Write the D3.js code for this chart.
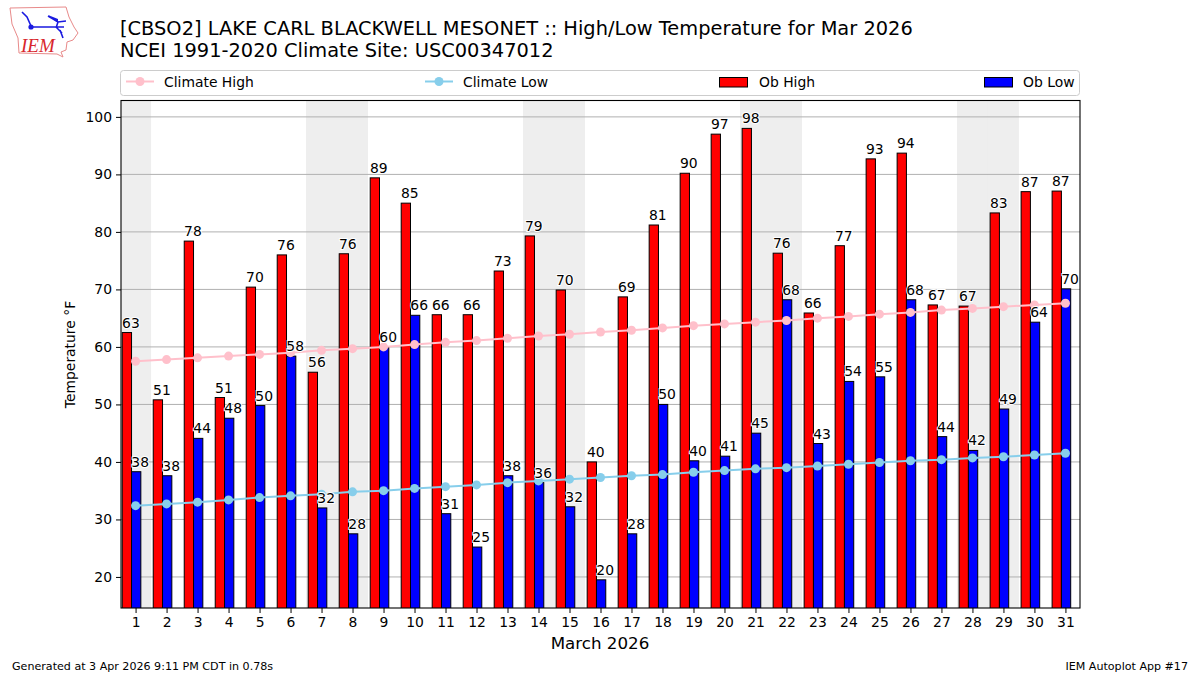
<!DOCTYPE html>
<html>
<head>
<meta charset="utf-8">
<script src="https://cdn.jsdelivr.net/npm/d3@7"></script>
<style>
  html, body { margin: 0; padding: 0; background: #fff; }
  svg text { font-family: "DejaVu Sans", sans-serif; fill: #000; }
</style>
</head>
<body>
<div id="vis"></div>
<script>
const days = d3.range(1, 32);
const weekendDays = [1, 7, 8, 14, 15, 21, 22, 28, 29];
const yTicks = [20, 30, 40, 50, 60, 70, 80, 90, 100];

const obHigh = [62.5, 50.8, 78.4, 51.2, 70.4, 76.0, 55.6, 76.2, 89.4, 85.0, 65.6, 65.6, 73.2, 79.3, 69.9, 40.0,
  68.7, 81.2, 90.2, 97.0, 98.0, 76.3, 65.9, 77.6, 92.7, 93.7, 67.3, 67.1, 83.3, 87.0, 87.1];
const obLow = [38.3, 37.6, 44.1, 47.6, 49.8, 58.4, 32.0, 27.5, 59.9, 65.5, 31.0, 25.2, 37.6, 36.4, 32.2, 19.5,
  27.5, 50.0, 40.2, 41.0, 45.0, 68.2, 43.2, 54.0, 54.8, 68.2, 44.4, 42.0, 49.2, 64.3, 70.1];
const highLabels = [63, 51, 78, 51, 70, 76, 56, 76, 89, 85, 66, 66, 73, 79, 70, 40,
  69, 81, 90, 97, 98, 76, 66, 77, 93, 94, 67, 67, 83, 87, 87];
const lowLabels = [38, 38, 44, 48, 50, 58, 32, 28, 60, 66, 31, 25, 38, 36, 32, 20,
  28, 50, 40, 41, 45, 68, 43, 54, 55, 68, 44, 42, 49, 64, 70];
const climateHigh = [57.5, 57.8, 58.1, 58.4, 58.7, 59.0, 59.4, 59.7, 60.0, 60.4, 60.8, 61.1, 61.5, 61.9, 62.2, 62.6,
  62.9, 63.3, 63.7, 64.0, 64.3, 64.6, 65.0, 65.3, 65.7, 66.0, 66.4, 66.7, 67.0, 67.3, 67.6];
const climateLow = [32.4, 32.7, 33.0, 33.4, 33.8, 34.1, 34.4, 34.8, 35.0, 35.4, 35.7, 36.0, 36.4, 36.7, 37.0, 37.3,
  37.6, 37.8, 38.2, 38.5, 38.8, 39.0, 39.3, 39.6, 39.9, 40.2, 40.4, 40.7, 40.9, 41.2, 41.5];

const margin = {top: 100.5, right: 120, bottom: 67, left: 121},
    width = 1200 - margin.left - margin.right,
    height = 675 - margin.top - margin.bottom;

const x = d3.scaleLinear().domain([0.53, 31.47]).range([0, width]);
const y = d3.scaleLinear().domain([14.6, 102.85]).range([height, 0]);

const root = d3.select("#vis").append("svg")
    .attr("width", 1200)
    .attr("height", 675)
    .style("display", "block");

// titles
root.append("text").attr("x", 120).attr("y", 35).attr("font-size", 19.4)
    .text("[CBSO2] LAKE CARL BLACKWELL MESONET :: High/Low Temperature for Mar 2026");
root.append("text").attr("x", 120).attr("y", 57).attr("font-size", 19.4)
    .text("NCEI 1991-2020 Climate Site: USC00347012");

// logo, rough drawing of the IEM mark
const logo = root.append("g");
logo.append("path")
    .attr("d", "M10,8 L66,7 L69,17 L74,27 L78,33 L73,40 L67,42 L66,50 L61,52 L63,57 L57,54 L19,53 L18,38 L12,24 Z")
    .attr("fill", "none").attr("stroke", "#e88a8a").attr("stroke-width", 1);
logo.append("path").attr("d", "M22,12 L27,17 L31,26 M31,27 L64,27 M48,16 L58,22 L66,21 M58,22 L56,28 M56,27 L62,33 M60,30 L63,38")
    .attr("fill", "none").attr("stroke", "#1a1ae0").attr("stroke-width", 1.6);
logo.append("circle").attr("cx", 31).attr("cy", 27).attr("r", 2.6).attr("fill", "#1a1ae0");
logo.append("path").attr("d", "M48,15 L58,19 L58,23 Z").attr("fill", "#1a1ae0");
logo.append("text").attr("x", 21).attr("y", 52).attr("font-size", 19)
    .style("font-family", "'Liberation Serif', serif").style("font-style", "italic").style("fill", "#d8262c")
    .text("IEM");

// legend
const legend = root.append("g");
legend.append("rect").attr("x", 120.5).attr("y", 70.5).attr("width", 959).attr("height", 25).attr("rx", 3)
    .attr("fill", "#fff").attr("stroke", "#cccccc");
[{label: "Climate High", color: "pink", lx: 126, tx: 164}, {label: "Climate Low", color: "skyblue", lx: 425, tx: 463}].forEach(function(d) {
  legend.append("line").attr("x1", d.lx).attr("x2", d.lx + 28).attr("y1", 81.5).attr("y2", 81.5)
      .attr("stroke", d.color).attr("stroke-width", 2);
  legend.append("circle").attr("cx", d.lx + 14).attr("cy", 81.5).attr("r", 4.5).attr("fill", d.color);
  legend.append("text").attr("x", d.tx).attr("y", 86.5).attr("font-size", 13.9).text(d.label);
});
[{label: "Ob High", color: "red", lx: 719, tx: 759}, {label: "Ob Low", color: "blue", lx: 984, tx: 1023}].forEach(function(d) {
  legend.append("rect").attr("x", d.lx + 0.5).attr("y", 77.5).attr("width", 28).attr("height", 9.5)
      .attr("fill", d.color).attr("stroke", "#000").attr("stroke-width", 1);
  legend.append("text").attr("x", d.tx).attr("y", 86.5).attr("font-size", 13.9).text(d.label);
});

const svg = root.append("g")
    .attr("transform", "translate(" + margin.left + "," + margin.top + ")");

svg.append("clipPath").attr("id", "plot").append("rect")
    .attr("width", width).attr("height", height);

const plot = svg.append("g").attr("clip-path", "url(#plot)");

// weekend shading
plot.selectAll(".weekend")
  .data(weekendDays)
  .enter().append("rect")
    .attr("class", "weekend")
    .attr("fill", "#eeeeee")
    .attr("x", function(d) { return x(d - 0.5); })
    .attr("width", x(1) - x(0))
    .attr("y", 0)
    .attr("height", height);

// grid
plot.selectAll(".grid")
  .data(yTicks)
  .enter().append("line")
    .attr("class", "grid")
    .attr("x1", 0).attr("x2", width)
    .attr("y1", function(d) { return y(d); })
    .attr("y2", function(d) { return y(d); })
    .attr("stroke", "#b0b0b0")
    .attr("stroke-width", 1);

function drawBars(values, start, color) {
  plot.selectAll(".bar-" + color)
    .data(values)
    .enter().append("rect")
      .attr("class", "bar-" + color)
      .attr("fill", color)
      .attr("stroke", "#000")
      .attr("stroke-width", 1)
      .attr("x", function(d, i) { return x(days[i] + start); })
      .attr("width", x(1.3) - x(1))
      .attr("y", function(d) { return y(d); })
      .attr("height", function(d) { return height - y(d) + 2; });
}
drawBars(obHigh, -0.43, "red");
drawBars(obLow, -0.13, "blue");

function drawClimate(values, color) {
  const line = d3.line()
      .x(function(d, i) { return x(days[i]); })
      .y(function(d) { return y(d); });
  plot.append("path")
      .attr("d", line(values))
      .attr("fill", "none")
      .attr("stroke", color)
      .attr("stroke-width", 2);
  plot.selectAll(".dot-" + color)
    .data(values)
    .enter().append("circle")
      .attr("class", "dot-" + color)
      .attr("fill", color)
      .attr("r", 4.5)
      .attr("cx", function(d, i) { return x(days[i]); })
      .attr("cy", function(d) { return y(d); });
}
drawClimate(climateHigh, "pink");
drawClimate(climateLow, "skyblue");

// value labels with a white halo
function drawLabels(values, labels, offset) {
  svg.append("g").selectAll("text")
    .data(values)
    .enter().append("text")
      .attr("x", function(d, i) { return x(days[i] + offset); })
      .attr("y", function(d) { return y(d) - 5; })
      .attr("text-anchor", "middle")
      .attr("font-size", 13.9)
      .attr("stroke", "#fff")
      .attr("stroke-width", 2)
      .attr("paint-order", "stroke")
      .text(function(d, i) { return labels[i]; });
}
drawLabels(obHigh, highLabels, -0.15);
drawLabels(obLow, lowLabels, 0.15);

// axes
const xAxis = svg.append("g")
    .attr("transform", "translate(0," + height + ")")
    .call(d3.axisBottom(x).tickValues(days).tickFormat(d3.format("d")).tickSize(5).tickPadding(4));
const yAxis = svg.append("g")
    .call(d3.axisLeft(y).tickValues(yTicks).tickSize(5).tickPadding(4));
[xAxis, yAxis].forEach(function(a) {
  a.selectAll("text").attr("font-size", 13.9).style("font-family", "'DejaVu Sans', sans-serif");
  a.select(".domain").remove();
});

svg.append("rect")
    .attr("width", width).attr("height", height)
    .attr("fill", "none").attr("stroke", "#000").attr("stroke-width", 1.1);

root.append("text").attr("x", 600).attr("y", 649).attr("text-anchor", "middle").attr("font-size", 16.7)
    .text("March 2026");
root.append("text").attr("transform", "translate(75,354.5) rotate(-90)").attr("text-anchor", "middle").attr("font-size", 13.9)
    .text("Temperature °F");

// footer
root.append("text").attr("x", 12).attr("y", 670).attr("font-size", 11.1)
    .text("Generated at 3 Apr 2026 9:11 PM CDT in 0.78s");
root.append("text").attr("x", 1188).attr("y", 670).attr("text-anchor", "end").attr("font-size", 11.1)
    .text("IEM Autoplot App #17");
</script>
</body>
</html>
